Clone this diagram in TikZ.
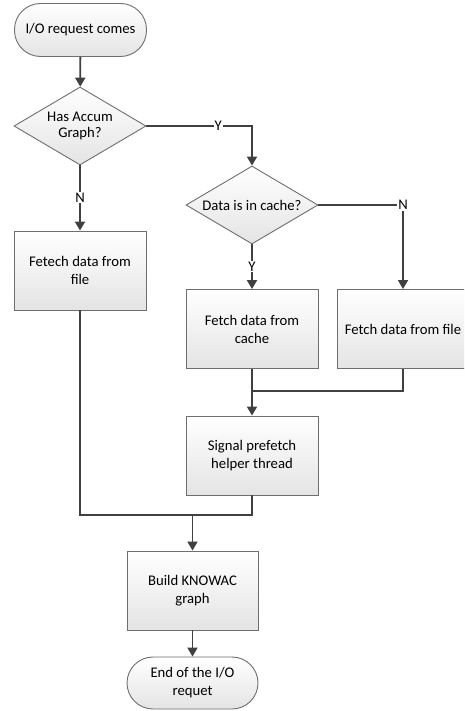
\documentclass[tikz,border=0pt]{standalone}
\usepackage{fontspec}
\setmainfont{Carlito}
\usetikzlibrary{shapes.geometric,arrows.meta}
\definecolor{edgegray}{HTML}{6E6E6E}
\definecolor{linegray}{HTML}{404040}
\definecolor{shadegray}{HTML}{E4E4E4}
\tikzset{
  base/.style={draw=edgegray, line width=0.9pt, top color=white, bottom color=shadegray, inner sep=0pt, align=center, font=\fontsize{14.7}{18}\selectfont},
  procbox/.style={base, rectangle, minimum width=132pt, minimum height=79pt},
  term/.style={base, rectangle, rounded corners=26pt, minimum width=132pt, minimum height=53pt},
  decision/.style={base, diamond, minimum width=132pt, minimum height=78pt, shape aspect=1.69, font=\fontsize{14.7}{16}\selectfont},
  conn/.style={draw=linegray, line width=1.8pt, -{Triangle[width=10pt,length=9pt]}},
  plain/.style={draw=linegray, line width=1.8pt},
  lbl/.style={fill=white, inner sep=1pt, font=\fontsize{14.7}{18}\selectfont, text=black}
}
\begin{document}
\begin{tikzpicture}[x=1pt,y=-1pt]
\useasboundingbox (0,0) rectangle (464,711);
\clip (0,0) rectangle (464,711);
\node[term] (start) at (80.5,30) {I/O request comes};
\node[decision] (d1) at (80,126) {Has Accum\\Graph?};
\node[decision] (d2) at (252,205) {Data is in cache?};
\node[procbox] (fetech) at (80,270.5) {Fetech data from\\file};
\node[procbox] (cache) at (252,329) {Fetch data from\\cache};
\node[procbox] (cfile) at (403,329) {Fetch data from file};
\node[procbox] (signal) at (252,455.5) {Signal prefetch\\helper thread};
\node[procbox, minimum width=131pt] (build) at (192.5,590.5) {Build KNOWAC\\graph};
\node[term, minimum width=131pt, minimum height=52pt] (end) at (192.5,683) {End of the I/O\\requet};
\coordinate (m1) at (252,391);
\coordinate (m2) at (192.5,515);
\draw[conn] (start) -- (d1);
\draw[conn] (d1.east) -| node[lbl, pos=0.34] {Y} (d2.north);
\draw[conn] (d1.south) -- node[lbl, pos=0.49] {N} (fetech.north);
\draw[conn] (d2.east) -| node[lbl, pos=0.5] {N} (cfile.north);
\draw[conn] (d2.south) -- node[lbl, pos=0.5] {Y} (cache.north);
\draw[conn] (cache.south) -- (signal.north);
\draw[plain] (cfile.south) |- (m1);
\draw[conn] (signal.south) |- (m2) -- (build.north);
\draw[plain] (fetech.south) |- (m2);
\draw[conn] (build.south) -- (end.north);
\end{tikzpicture}
\end{document}
